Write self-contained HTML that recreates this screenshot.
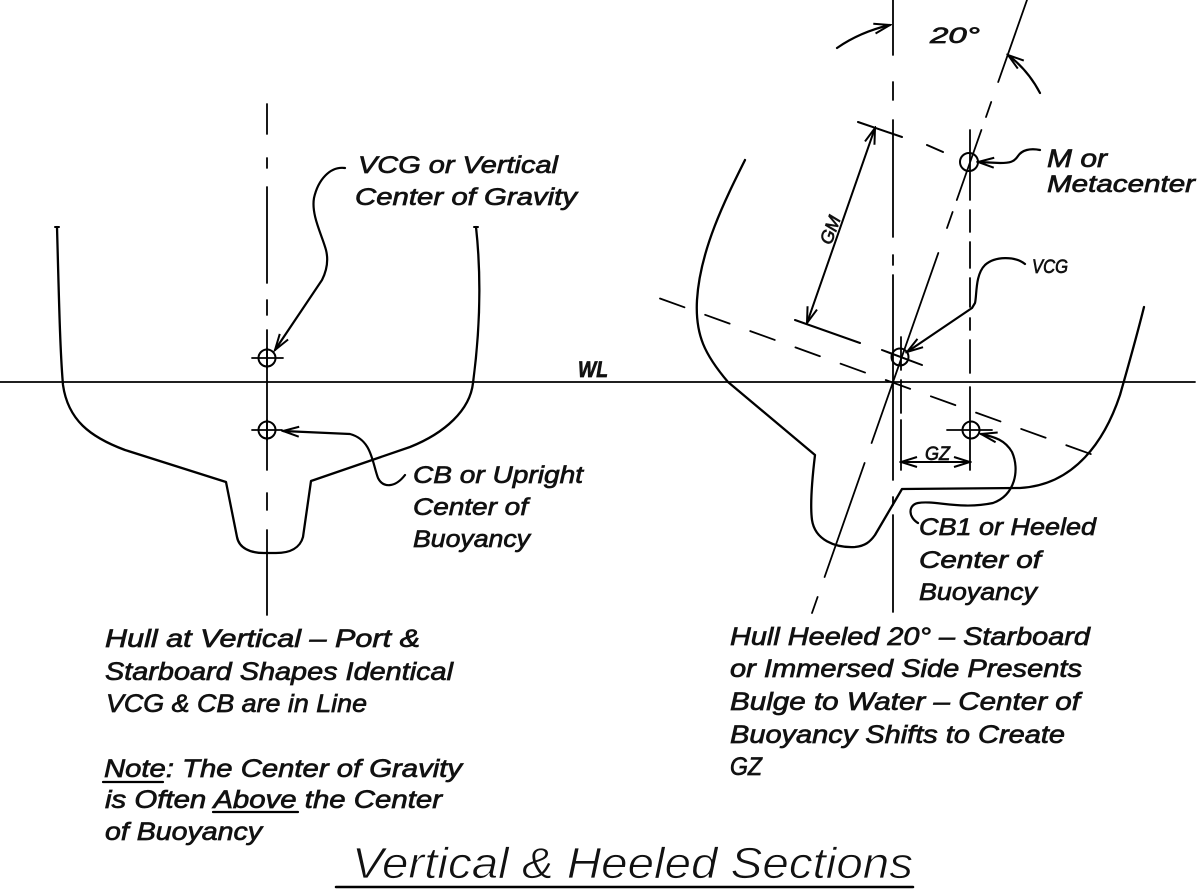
<!DOCTYPE html>
<html><head><meta charset="utf-8"><style>html,body{margin:0;padding:0;background:#fff}svg{display:block}</style></head>
<body>
<svg width="1200" height="893" viewBox="0 0 1200 893" xmlns="http://www.w3.org/2000/svg">
<defs>
<marker id="a" viewBox="-18 -7 20 14" refX="0" refY="0" markerWidth="20" markerHeight="14" markerUnits="userSpaceOnUse" orient="auto-start-reverse">
<path d="M-16,-5 L0,0 L-16,5" fill="none" stroke="#000" stroke-width="2"/>
</marker>
</defs>
<g fill="none" stroke="#000" stroke-linecap="round" stroke-linejoin="round">
<!-- WL -->
<line x1="0" y1="382" x2="1195" y2="382" stroke-width="1.8"/>
<!-- left centerline -->
<path stroke-width="1.8" d="M267,104V134 M267,158V168 M267,187V283 M267,300V315 M267,330V470 M267,493V510 M267,530V615"/>
<!-- left hull -->
<path stroke-width="2.3" d="M57,227 C59,300 60,350 63,385 C68,420 90,437 125,450 L226,482 L237,537 C239,548 250,553 264,553 L276,553 C290,553 300,548 303,537 L311,481 L410,447 C445,433 470,410 473,383 Q484,300 476,227"/>
<path stroke-width="2" d="M55,227H59 M474,227H478"/>
<!-- left circles -->
<circle cx="267" cy="358" r="8.5" stroke-width="2"/>
<circle cx="267" cy="430" r="8.5" stroke-width="2"/>
<path stroke-width="1.8" d="M252,358H283 M252,430H282 M267,348V368 M267,420V440"/>
<!-- left leaders -->
<path stroke-width="2.2" marker-end="url(#a)" d="M345,168 C330,166 318,180 314,198 C311,215 322,235 326,250 C329,262 326,272 322,280 L275,350"/>
<path stroke-width="2.2" marker-end="url(#a)" d="M405,475 C395,488 383,488 378,478 C372,462 372,440 350,434 L283,431"/>

<!-- right upright centerline -->
<path stroke-width="1.8" d="M893,0V55 M893,82V100 M893,120V237 M893,255V265 M893,275V480 M893,497V505 M893,515V612"/>
<!-- inclined axis -->
<path stroke-width="1.8" d="M1027,0L998.2,82 M991.2,102L986,117 M981.4,130L956.8,200 M952.6,212L947,228 M938.3,253L871.6,443 M864.6,463L824.6,577 M817.6,597L812,613"/>
<!-- heeled WL -->
<line x1="660" y1="298.5" x2="1110" y2="461" stroke-width="1.8" stroke-dasharray="26 22"/>
<!-- M perpendicular -->
<path stroke-width="2" d="M858,122L902,137 M927,145L943,152"/>
<!-- G perpendicular -->
<path stroke-width="2" d="M795,320L860,343 M882,350L922,365"/>
<!-- vertical through M -->
<path stroke-width="1.8" d="M970,130V200 M970,210V232 M970,242V268 M970,278V307 M970,318V330 M970,340V373 M970,387V470"/>
<!-- vertical through G -->
<path stroke-width="1.8" d="M901,337V370 M901,380V413 M901,420V470"/>
<!-- circles -->
<circle cx="969" cy="162" r="9" stroke-width="2"/>
<circle cx="900" cy="357" r="8.5" stroke-width="2"/>
<circle cx="971" cy="430" r="8.5" stroke-width="2"/>
<path stroke-width="1.8" d="M947,430H992"/>
<!-- heeled hull -->
<path stroke-width="2.3" d="M745,160 C725,200 700,250 697,300 C695,335 705,355 728,382 L815,455 C812,480 810,505 812,520 C815,540 835,548 855,547 C865,546 870,542 875,535 L902,489 L1020,488 C1075,485 1105,440 1120,395 C1130,360 1137,335 1144,307"/>
<!-- GM dimension -->
<line x1="875" y1="128" x2="807" y2="323" stroke-width="2" marker-start="url(#a)" marker-end="url(#a)"/>
<!-- GZ dimension -->
<line x1="901" y1="462" x2="970" y2="462" stroke-width="2" marker-start="url(#a)" marker-end="url(#a)"/>
<!-- 20 deg arrows -->
<path stroke-width="2.2" marker-end="url(#a)" d="M837,48 Q860,32 890,25"/>
<path stroke-width="2.2" marker-end="url(#a)" d="M1040,93 Q1028,70 1008,55"/>
<!-- right leaders -->
<path stroke-width="2.2" marker-end="url(#a)" d="M1040,150 C1030,148 1022,150 1018,156 C1014,162 1010,163 1000,163 L978,162"/>
<path stroke-width="2.2" marker-end="url(#a)" d="M1025,264 C1015,256 995,256 985,265 C975,275 977,295 975,303 L972,308 L907,352"/>
<path stroke-width="2.2" marker-end="url(#a)" d="M918,523 C908,517 908,505 918,503 C935,500 960,510 993,503 C1015,495 1020,470 1012,452 C1005,440 995,437 981,434"/>
<!-- title underline -->
<line x1="336" y1="887" x2="913" y2="887" stroke-width="2.5"/>
<!-- text underlines -->
<line x1="103" y1="782" x2="163" y2="782" stroke-width="2.2"/>
<line x1="213" y1="812" x2="298" y2="812" stroke-width="2.2"/>
</g>

<g font-family="'Liberation Sans', sans-serif" font-style="italic" fill="#111" stroke="#111" stroke-width="0.7" font-size="24">
<text x="358" y="173" textLength="200" lengthAdjust="spacingAndGlyphs">VCG or Vertical</text>
<text x="355" y="205" textLength="222" lengthAdjust="spacingAndGlyphs">Center of Gravity</text>
<text x="413" y="483" textLength="170" lengthAdjust="spacingAndGlyphs">CB or Upright</text>
<text x="413" y="515" textLength="115" lengthAdjust="spacingAndGlyphs">Center of</text>
<text x="413" y="547" textLength="117" lengthAdjust="spacingAndGlyphs">Buoyancy</text>
<text x="578" y="377" font-size="22" font-weight="bold" textLength="30" lengthAdjust="spacingAndGlyphs">WL</text>

<text x="105" y="647" font-size="25" textLength="315" lengthAdjust="spacingAndGlyphs">Hull at Vertical – Port &amp;</text>
<text x="105" y="680" font-size="25" textLength="348" lengthAdjust="spacingAndGlyphs">Starboard Shapes Identical</text>
<text x="106" y="712" font-size="25" textLength="261" lengthAdjust="spacingAndGlyphs">VCG &amp; CB are in Line</text>
<text x="104" y="777" font-size="25" textLength="358" lengthAdjust="spacingAndGlyphs">Note: The Center of Gravity</text>
<text x="105" y="808" font-size="25" textLength="337" lengthAdjust="spacingAndGlyphs">is Often Above the Center</text>
<text x="105" y="840" font-size="25" textLength="157" lengthAdjust="spacingAndGlyphs">of Buoyancy</text>

<text x="730" y="645" font-size="25" textLength="360" lengthAdjust="spacingAndGlyphs">Hull Heeled 20° – Starboard</text>
<text x="730" y="677" font-size="25" textLength="352" lengthAdjust="spacingAndGlyphs">or Immersed Side Presents</text>
<text x="730" y="710" font-size="25" textLength="350" lengthAdjust="spacingAndGlyphs">Bulge to Water – Center of</text>
<text x="730" y="743" font-size="25" textLength="335" lengthAdjust="spacingAndGlyphs">Buoyancy Shifts to Create</text>
<text x="730" y="775" font-size="25" textLength="32" lengthAdjust="spacingAndGlyphs">GZ</text>

<text x="1047" y="167" font-size="25" textLength="60" lengthAdjust="spacingAndGlyphs">M or</text>
<text x="1047" y="192" font-size="24" textLength="148" lengthAdjust="spacingAndGlyphs">Metacenter</text>
<text x="1032" y="273" font-size="19" textLength="36" lengthAdjust="spacingAndGlyphs">VCG</text>
<text x="930" y="43" font-size="22" textLength="50" lengthAdjust="spacingAndGlyphs">20°</text>
<text x="925" y="460" font-size="19" textLength="25" lengthAdjust="spacingAndGlyphs">GZ</text>
<text x="0" y="0" font-size="18" transform="translate(836,232) rotate(-70)" text-anchor="middle">GM</text>

<text x="919" y="535" font-size="24" textLength="177" lengthAdjust="spacingAndGlyphs">CB1 or Heeled</text>
<text x="919" y="568" font-size="24" textLength="122" lengthAdjust="spacingAndGlyphs">Center of</text>
<text x="919" y="600" font-size="24" textLength="118" lengthAdjust="spacingAndGlyphs">Buoyancy</text>
</g>
<text x="352" y="878" font-family="'Liberation Sans', sans-serif" font-style="italic" fill="#111" font-size="44" textLength="561" lengthAdjust="spacingAndGlyphs" stroke="#fff" stroke-width="0.8">Vertical &amp; Heeled Sections</text>
</svg>
</body></html>
